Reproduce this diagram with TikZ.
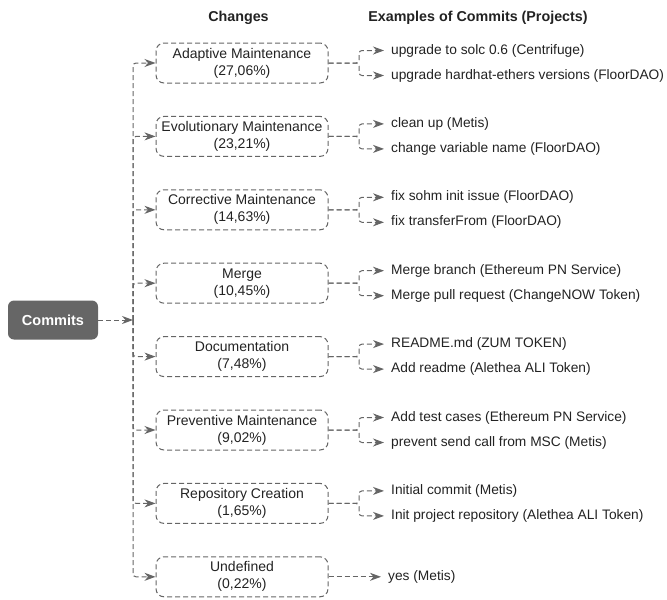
\documentclass[tikz,border=0pt]{standalone}
\usepackage{fontspec}
\setmainfont{Liberation Sans}
\usetikzlibrary{arrows.meta}
\definecolor{linegray}{HTML}{656565}
\definecolor{rootfill}{HTML}{666666}
\definecolor{txt}{HTML}{222222}
\begin{document}
\begin{tikzpicture}[x=1pt,y=-1pt,
  every node/.style={text=txt, font=\fontsize{14}{17}\selectfont},
  rootbox/.style={draw=none, fill=rootfill, rounded corners=6pt, minimum width=90pt,
    minimum height=39pt, text=white, font=\fontsize{14.5}{17}\selectfont\bfseries},
  changebox/.style={draw=linegray, dash pattern=on 5pt off 3pt, line width=1pt,
    rounded corners=8pt, minimum width=172pt, minimum height=40pt, align=center,
    inner sep=1pt},
  example/.style={anchor=west, inner xsep=7pt, inner ysep=1pt,
    font=\fontsize{13.75}{17}\selectfont},
  header/.style={font=\fontsize{14.3}{17}\selectfont\bfseries},
  conn/.style={draw=linegray, line width=1pt, dash pattern=on 5pt off 3pt,
    rounded corners=3pt},
  tip/.style={-{Stealth[length=11pt,width=8pt,inset=3.5pt,fill=linegray]}}
]
\useasboundingbox (0,0) rectangle (667,600);

% column headings
\node[header] (hchanges) at (238.5,18) {Changes};
\node[header] (hexamples) at (478,18) {Examples of Commits (Projects)};

% root node and the branching point on the trunk
\node[rootbox] (commits) at (53,320) {Commits};
\coordinate (hub) at (133,320);

% change categories
\node[changebox] (b1) at (242,63.0)  {Adaptive Maintenance\\(27,06\%)};
\node[changebox] (b2) at (242,136.4) {Evolutionary Maintenance\\(23,21\%)};
\node[changebox] (b3) at (242,209.8) {Corrective Maintenance\\(14,63\%)};
\node[changebox] (b4) at (242,283.2) {Merge\\(10,45\%)};
\node[changebox] (b5) at (242,356.6) {Documentation\\(7,48\%)};
\node[changebox] (b6) at (242,430.0) {Preventive Maintenance\\(9,02\%)};
\node[changebox] (b7) at (242,503.4) {Repository Creation\\(1,65\%)};
\node[changebox] (b8) at (242,576.8) {Undefined\\(0,22\%)};

% example commits
\node[example] (e1a) at (384,50.5)  {upgrade to solc 0.6 (Centrifuge)};
\node[example] (e1b) at (384,75.5)  {upgrade hardhat-ethers versions (FloorDAO)};
\node[example] (e2a) at (384,123.9) {clean up (Metis)};
\node[example] (e2b) at (384,148.9) {change variable name (FloorDAO)};
\node[example] (e3a) at (384,197.3) {fix sohm init issue (FloorDAO)};
\node[example] (e3b) at (384,222.3) {fix transferFrom (FloorDAO)};
\node[example] (e4a) at (384,270.7) {Merge branch (Ethereum PN Service)};
\node[example] (e4b) at (384,295.7) {Merge pull request (ChangeNOW Token)};
\node[example] (e5a) at (384,344.1) {README.md (ZUM TOKEN)};
\node[example] (e5b) at (384,369.1) {Add readme (Alethea ALI Token)};
\node[example] (e6a) at (384,417.5) {Add test cases (Ethereum PN Service)};
\node[example] (e6b) at (384,442.5) {prevent send call from MSC (Metis)};
\node[example] (e7a) at (384,490.9) {Initial commit (Metis)};
\node[example] (e7b) at (384,515.9) {Init project repository (Alethea ALI Token)};
\node[example] (e8)  at (381,576.8) {yes (Metis)};

% root to trunk
\draw[conn, tip] (commits) -- (hub);

% trunk to each category
\foreach \b in {b1,b2,b3,b4,b5,b6,b7,b8}
  \draw[conn, tip] (hub) |- (\b.west);

% split points right of the categories
\foreach \i/\y in {1/63.0, 2/136.4, 3/209.8, 4/283.2, 5/356.6, 6/430.0, 7/503.4}
  \coordinate (s\i) at (359,\y);

% category to its examples
\foreach \i in {1,...,7}{
  \draw[conn, tip] (b\i.east) -- (s\i) |- (e\i a.west);
  \draw[conn, tip] (b\i.east) -- (s\i) |- (e\i b.west);
}
\draw[conn, tip] (b8.east) -- (e8.west);
\end{tikzpicture}
\end{document}
